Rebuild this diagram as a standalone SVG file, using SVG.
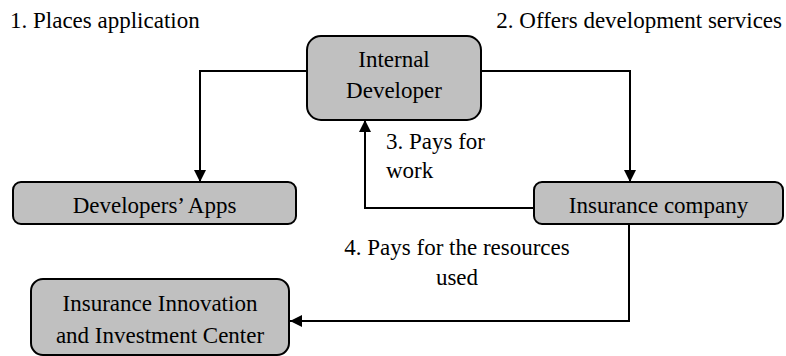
<svg xmlns="http://www.w3.org/2000/svg" width="786" height="356" viewBox="0 0 786 356">
<defs>
<style>
text{font-family:'Liberation Serif',serif;font-size:23px;fill:#000}
.n{fill:#c0c0c0;stroke:#000;stroke-width:2}
.c{fill:none;stroke:#000;stroke-width:2}
.m{text-anchor:middle}
</style>
<marker id="ah" viewBox="0 0 12 12" refX="12" refY="6" markerWidth="12" markerHeight="12" markerUnits="userSpaceOnUse" orient="auto">
<path d="M0,0 L12,6 L0,12 Z" fill="#000"/>
</marker>
</defs>
<rect width="786" height="356" fill="#fff"/>
<g id="connectors">
<path class="c" d="M307,71 H200 V182" marker-end="url(#ah)"/>
<path class="c" d="M481,71 H630 V182" marker-end="url(#ah)"/>
<path class="c" d="M534,208 H365 V120" marker-end="url(#ah)"/>
<path class="c" d="M629,224 V321 H290" marker-end="url(#ah)"/>
</g>
<g id="labels">
<text x="10" y="28">1. Places application</text>
<text x="782" y="28" text-anchor="end">2. Offers development services</text>
<text x="386" y="149">3. Pays for</text>
<text x="386" y="178">work</text>
<text x="457" y="255" class="m">4. Pays for the resources</text>
<text x="457" y="285" class="m">used</text>
</g>
<g id="internal-developer">
<rect class="n" x="307" y="36" width="174" height="84" rx="14"/>
<text x="394" y="67" class="m">Internal</text>
<text x="394" y="98" class="m">Developer</text>
</g>
<g id="developers-apps">
<rect class="n" x="13" y="182" width="283" height="42" rx="8"/>
<text x="154.5" y="213" class="m">Developers’ Apps</text>
</g>
<g id="insurance-company">
<rect class="n" x="534" y="182" width="249" height="42" rx="8"/>
<text x="658.5" y="213" class="m">Insurance company</text>
</g>
<g id="innovation-center">
<rect class="n" x="31" y="279" width="258" height="76" rx="12"/>
<text x="160" y="311" class="m">Insurance Innovation</text>
<text x="160" y="343" class="m">and Investment Center</text>
</g>
</svg>
